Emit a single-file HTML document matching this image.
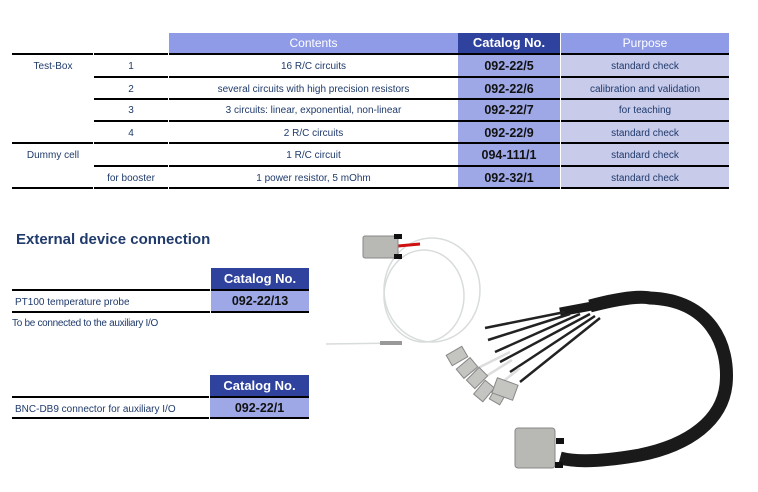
<!DOCTYPE html>
<html><head><meta charset="utf-8"><style>
body{margin:0;width:758px;height:492px;background:#fff;position:relative;overflow:hidden;font-family:"Liberation Sans",Arial,sans-serif;color:#1f3a6b}
.a{position:absolute}
.c{position:absolute;font-size:10px;text-align:center;line-height:1}
.b{position:absolute;background:#000;height:2px}
.cat{font-weight:bold;font-size:12.5px;color:#111}
</style></head><body>
<div class="a" style="left:169px;top:33px;width:289px;height:20px;background:#8f9be6"></div>
<div class="a" style="left:458px;top:33px;width:102px;height:20px;background:#2e429e"></div>
<div class="a" style="left:561px;top:33px;width:168px;height:20px;background:#8f9be6"></div>
<div class="c" style="left:169px;top:37px;width:289px;font-size:12px;color:#fff">Contents</div>
<div class="c" style="left:458px;top:36px;width:102px;font-size:13px;color:#fff;font-weight:bold">Catalog No.</div>
<div class="c" style="left:561px;top:37px;width:168px;font-size:12px;color:#fff">Purpose</div>
<div class="a" style="left:458px;top:53px;width:102px;height:135px;background:#9ea8e6"></div>
<div class="a" style="left:561px;top:53px;width:168px;height:135px;background:#c8cbea"></div>
<div class="b" style="left:12px;top:53px;width:717px"></div>
<div class="b" style="left:94px;top:76px;width:635px"></div>
<div class="b" style="left:94px;top:98px;width:635px"></div>
<div class="b" style="left:94px;top:120px;width:635px"></div>
<div class="b" style="left:12px;top:142px;width:717px"></div>
<div class="b" style="left:94px;top:165px;width:635px"></div>
<div class="b" style="left:12px;top:187px;width:717px"></div>
<div class="a" style="left:93px;top:53px;width:1px;height:136px;background:#fff"></div>
<div class="a" style="left:168px;top:33px;width:1px;height:156px;background:#fff"></div>
<div class="a" style="left:560px;top:33px;width:1px;height:156px;background:#fff"></div>
<div class="c" style="left:12px;top:62px;width:82px">Test-Box</div>
<div class="c" style="left:12px;top:151px;width:82px">Dummy cell</div>
<div class="c" style="left:94px;top:62px;width:74px">1</div>
<div class="c" style="left:94px;top:85px;width:74px">2</div>
<div class="c" style="left:94px;top:106px;width:74px">3</div>
<div class="c" style="left:94px;top:129px;width:74px">4</div>
<div class="c" style="left:94px;top:174px;width:74px">for booster</div>
<div class="c" style="left:169px;top:62px;width:289px">16 R/C circuits</div>
<div class="c" style="left:169px;top:85px;width:289px">several circuits with high precision resistors</div>
<div class="c" style="left:169px;top:106px;width:289px">3 circuits: linear, exponential, non-linear</div>
<div class="c" style="left:169px;top:129px;width:289px">2 R/C circuits</div>
<div class="c" style="left:169px;top:151px;width:289px">1 R/C circuit</div>
<div class="c" style="left:169px;top:174px;width:289px">1 power resistor, 5 mOhm</div>
<div class="c cat" style="left:458px;top:60px;width:102px">092-22/5</div>
<div class="c cat" style="left:458px;top:83px;width:102px">092-22/6</div>
<div class="c cat" style="left:458px;top:104px;width:102px">092-22/7</div>
<div class="c cat" style="left:458px;top:127px;width:102px">092-22/9</div>
<div class="c cat" style="left:458px;top:149px;width:102px">094-111/1</div>
<div class="c cat" style="left:458px;top:172px;width:102px">092-32/1</div>
<div class="c" style="left:561px;top:62px;width:168px">standard check</div>
<div class="c" style="left:561px;top:85px;width:168px">calibration and validation</div>
<div class="c" style="left:561px;top:106px;width:168px">for teaching</div>
<div class="c" style="left:561px;top:129px;width:168px">standard check</div>
<div class="c" style="left:561px;top:151px;width:168px">standard check</div>
<div class="c" style="left:561px;top:174px;width:168px">standard check</div>
<div class="a" style="left:16px;top:231px;font-size:15px;font-weight:bold;color:#1f3a6b">External device connection</div>
<div class="a" style="left:211px;top:268px;width:98px;height:21px;background:#2e429e"></div>
<div class="c" style="left:211px;top:272px;width:98px;font-size:13px;color:#fff;font-weight:bold">Catalog No.</div>
<div class="b" style="left:12px;top:289px;width:297px"></div>
<div class="a" style="left:211px;top:291px;width:98px;height:20px;background:#9ea8e6"></div>
<div class="c cat" style="left:211px;top:295px;width:98px">092-22/13</div>
<div class="a" style="left:15px;top:297px;font-size:10px">PT100 temperature probe</div>
<div class="b" style="left:12px;top:311px;width:297px"></div>
<div class="a" style="left:210px;top:289px;width:1px;height:24px;background:#fff"></div>
<div class="a" style="left:12px;top:318px;font-size:10px;letter-spacing:-0.3px">To be connected to the auxiliary I/O</div>
<div class="a" style="left:210px;top:375px;width:99px;height:21px;background:#2e429e"></div>
<div class="c" style="left:210px;top:379px;width:99px;font-size:13px;color:#fff;font-weight:bold">Catalog No.</div>
<div class="b" style="left:12px;top:396px;width:297px"></div>
<div class="a" style="left:210px;top:398px;width:99px;height:19px;background:#9ea8e6"></div>
<div class="c cat" style="left:210px;top:402px;width:99px">092-22/1</div>
<div class="a" style="left:15px;top:404px;font-size:10px">BNC-DB9 connector for auxiliary I/O</div>
<div class="b" style="left:12px;top:417px;width:297px"></div>
<div class="a" style="left:209px;top:396px;width:1px;height:24px;background:#fff"></div>
<svg class="a" style="left:0;top:0" width="758" height="492">
<g fill="none" stroke="#d8dcdc" stroke-width="1.5">
<ellipse cx="432" cy="290" rx="48" ry="52"/>
<ellipse cx="424" cy="296" rx="40" ry="46"/>
<path d="M326 344 L400 343"/>
</g>
<rect x="380" y="341" width="22" height="4" fill="#999"/>
<path d="M398 246 L420 244" stroke="#d01010" stroke-width="3"/>
<rect x="363" y="236" width="35" height="22" rx="2" fill="#b8b8b4" stroke="#888"/>
<rect x="394" y="234" width="8" height="5" fill="#111"/><rect x="394" y="254" width="8" height="5" fill="#111"/>
<path d="M590 306 C620 298 640 296 650 298 C710 300 730 345 726 385 C722 420 690 445 640 455 C600 462 575 462 560 458" stroke="#1a1a1a" stroke-width="13" fill="none"/>
<path d="M560 312 L592 306" stroke="#1a1a1a" stroke-width="9"/>
<g stroke="#222" stroke-width="2.5">
<path d="M565 312 L485 328 M570 314 L488 340 M580 314 L495 352 M590 314 L500 362 M595 316 L510 372 M600 318 L520 382"/>
</g>
<g stroke="#ddd" stroke-width="2.5">
<path d="M510 352 L470 372 M512 360 L480 380 M520 368 L490 392"/>
</g>
<g fill="#c4c4c0" stroke="#888">
<rect x="448" y="350" width="18" height="12" transform="rotate(-30 457 356)"/>
<rect x="458" y="362" width="18" height="12" transform="rotate(-40 467 368)"/>
<rect x="468" y="372" width="18" height="12" transform="rotate(-45 477 378)"/>
<rect x="475" y="385" width="18" height="12" transform="rotate(-50 484 391)"/>
<rect x="490" y="388" width="18" height="12" transform="rotate(-60 499 394)"/>
<rect x="497" y="378" width="16" height="22" transform="rotate(-70 505 389)"/>
</g>
<rect x="515" y="428" width="40" height="40" rx="3" fill="#b8b8b4" stroke="#888"/>
<rect x="556" y="438" width="8" height="6" fill="#111"/><rect x="555" y="462" width="8" height="6" fill="#111"/>
</svg>
</body></html>
